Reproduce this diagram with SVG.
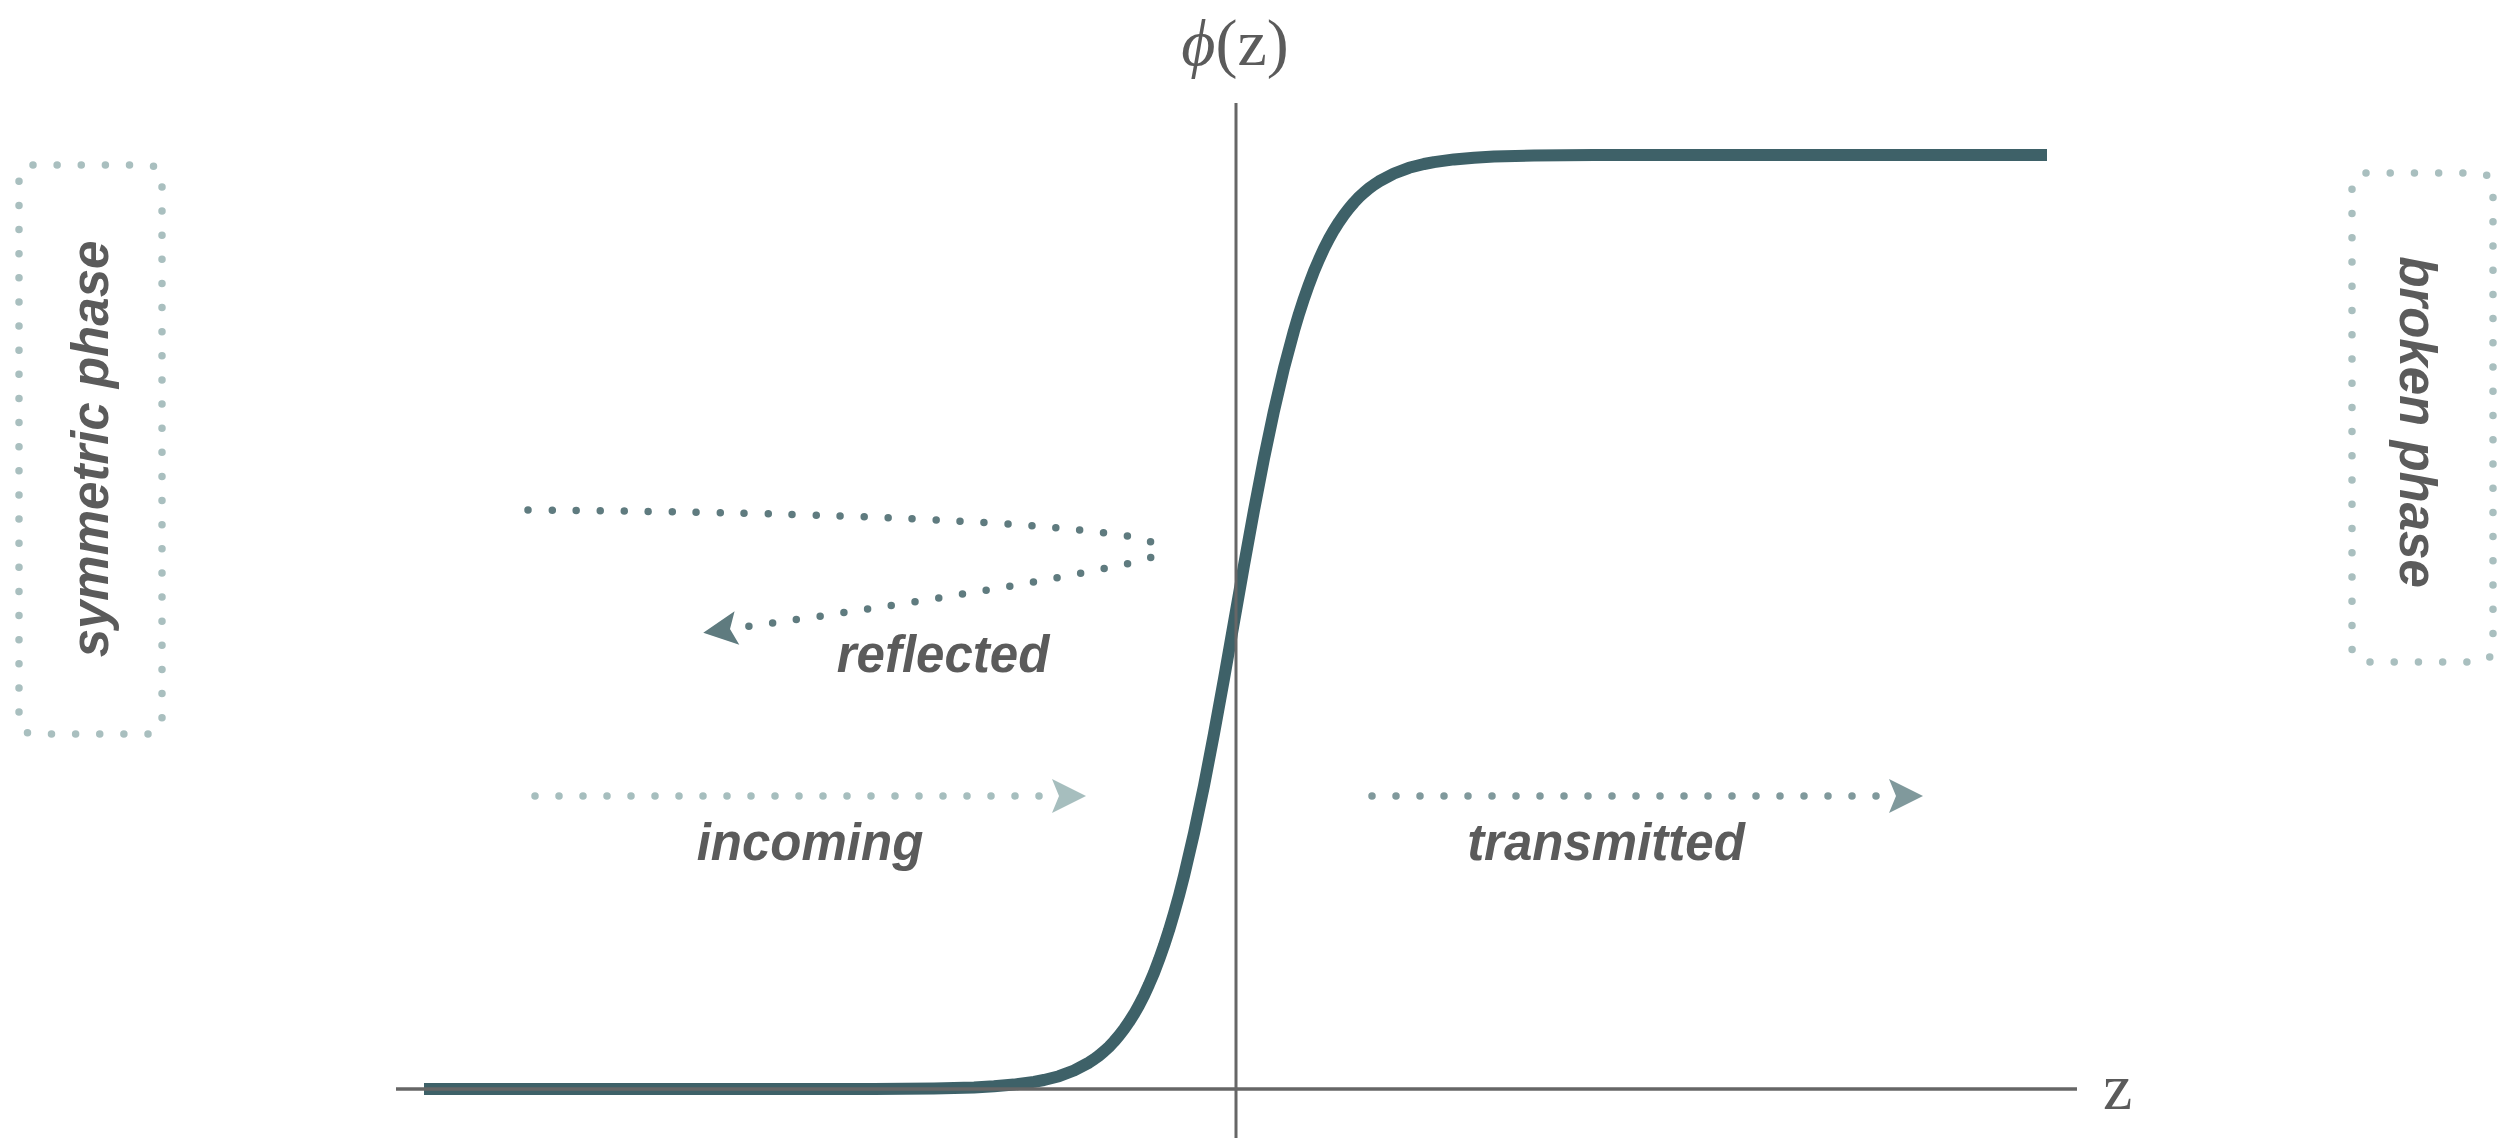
<svg xmlns="http://www.w3.org/2000/svg" width="2512" height="1138" viewBox="0 0 2512 1138">
<style>
.lbl{font-family:"Liberation Sans","Helvetica",Arial,sans-serif;font-weight:bold;font-style:italic;font-size:51px;fill:#5b5b5b}
.math{font-family:"Liberation Serif","DejaVu Serif","Times New Roman",serif;font-size:66px;fill:#5b5b5b}
.axis{stroke:#666666;fill:none}
.box{fill:none;stroke:#a9bfbf;stroke-width:7.5;stroke-linecap:round;stroke-dasharray:0 1}
.dots{fill:none;stroke-width:7.5;stroke-linecap:round;stroke-dasharray:0 24}
</style>
<defs>
<marker id="ah-in" markerUnits="userSpaceOnUse" markerWidth="40" markerHeight="40" viewBox="0 -20 40 40" refX="7" refY="0" orient="auto" overflow="visible">
<path d="M0,-17 L34,0 L0,17 L7,0 Z" fill="#a6bebe"/>
</marker>
<marker id="ah-tr" markerUnits="userSpaceOnUse" markerWidth="40" markerHeight="40" viewBox="0 -20 40 40" refX="7" refY="0" orient="auto" overflow="visible">
<path d="M0,-17 L34,0 L0,17 L7,0 Z" fill="#80999c"/>
</marker>
<marker id="ah-re" markerUnits="userSpaceOnUse" markerWidth="40" markerHeight="40" viewBox="0 -20 40 40" refX="7" refY="0" orient="auto" overflow="visible">
<path d="M0,-17 L34,0 L0,17 L7,0 Z" fill="#5f7b7f"/>
</marker>
</defs>
<rect width="2512" height="1138" fill="#ffffff"/>

<g id="curve">
<path d="M 424 1089 L 874 1088.9 L 934 1088.4 L 974 1087.4 L 994 1086.3 L 1014 1084.6 L 1034 1081.9 L 1044 1080 L 1059 1076.2 L 1074 1070.5 L 1089 1062.6 L 1094 1059.3 L 1099 1055.6 L 1104 1051.4 L 1109 1046.8 L 1114 1041.5 L 1119 1035.7 L 1124 1029.2 L 1129 1021.9 L 1134 1014.1 L 1139 1005.2 L 1144 995.5 L 1149 984.5 L 1154 972.8 L 1159 959.7 L 1164 945.6 L 1169 930.2 L 1174 913.4 L 1179 895.5 L 1184 876 L 1194 833.2 L 1204 785.7 L 1214 733.7 L 1224 678.7 L 1234 622 L 1244 565.3 L 1254 510.3 L 1264 458.4 L 1274 410.8 L 1284 368 L 1294 330.6 L 1299 313.8 L 1304 298.4 L 1309 284.3 L 1314 271.2 L 1319 259.5 L 1324 248.5 L 1329 238.8 L 1334 229.9 L 1339 222.1 L 1344 214.8 L 1349 208.3 L 1354 202.5 L 1359 197.2 L 1364 192.6 L 1369 188.4 L 1374 184.7 L 1379 181.4 L 1394 173.5 L 1409 167.8 L 1424 164 L 1434 162.1 L 1454 159.4 L 1474 157.7 L 1494 156.6 L 1534 155.6 L 1594 155.1 L 2047 155" fill="none" stroke="#3e6168" stroke-width="12" stroke-linejoin="round"/>
</g>

<g id="axes">
<line class="axis" x1="396" y1="1089" x2="2077" y2="1089" stroke-width="3.5"/>
<line class="axis" x1="1236" y1="103" x2="1236" y2="1138" stroke-width="3"/>
</g>

<g id="label-phi">
<text class="math" x="1235" y="65" text-anchor="middle"><tspan font-style="italic">ϕ</tspan>(z)</text>
</g>
<g id="label-z">
<text class="math" x="2103" y="1109">z</text>
</g>

<g id="symmetric-phase">
<rect class="box" x="19" y="165" width="143" height="569" rx="14" pathLength="58"/>
<text class="lbl" transform="translate(108,449) rotate(-90)" text-anchor="middle">symmetric phase</text>
</g>

<g id="broken-phase">
<rect class="box" x="2352" y="173" width="141" height="489" rx="14" pathLength="51"/>
<text class="lbl" transform="translate(2400,422) rotate(90)" text-anchor="middle">broken phase</text>
</g>

<g id="connectors">
<path class="dots" d="M 535 796 H 1059" stroke="#a6bebe" marker-end="url(#ah-in)"/>
<path class="dots" d="M 1372 796 H 1896" stroke="#80999c" marker-end="url(#ah-tr)"/>
<path class="dots" d="M 528 510 Q 1000 514 1140 538 Q 1175 548 1145 560 Q 1010 590 730 629" stroke="#5f7b7f" marker-end="url(#ah-re)"/>
</g>

<g id="label-incoming"><text class="lbl" x="810" y="860" text-anchor="middle">incoming</text></g>
<g id="label-transmitted"><text class="lbl" x="1606" y="860" text-anchor="middle">transmitted</text></g>
<g id="label-reflected"><text class="lbl" x="943" y="672" text-anchor="middle">reflected</text></g>
</svg>
